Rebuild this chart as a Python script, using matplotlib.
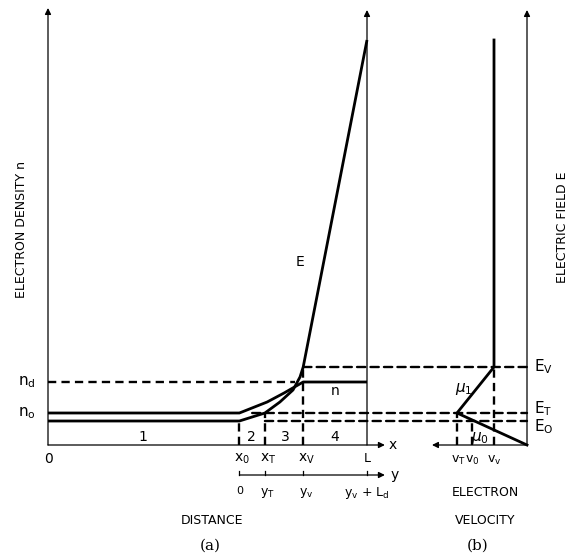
import matplotlib
matplotlib.use("Agg")
import matplotlib.pyplot as plt
from matplotlib.patches import ConnectionPatch

# ---- data (schematic) ----
# panel (a): distance marks
x_0, x_T, x_v, L = 6.0, 6.8, 8.0, 10.0
# field levels
E_0, E_T, E_v, E_L = 2.4, 3.2, 7.8, 40.5
# density levels
n_0, n_d = 3.2, 6.3

# electric field along the sample
E_dist = [0.0, 6.0, 6.8, 7.27, 7.68, 7.9, 8.0, 10.0]
E_vals = [2.4, 2.4, 3.2, 4.3, 5.5, 6.8, 7.8, 40.5]

# electron density along the sample
n_dist = [0.0, 6.0, 6.87, 7.4, 8.0, 10.0]
n_vals = [3.2, 3.2, 4.3, 5.2, 6.3, 6.3]

# panel (b): velocity-field characteristic
v_T, v_0, v_v = 7.0, 5.5, 3.3
vel = [0.0, 7.0, 3.3, 3.3]
field = [0.0, 3.2, 7.8, 40.5]

W, H = 575, 559
fig = plt.figure(figsize=(W / 100, H / 100), dpi=100)
fig.patch.set_facecolor("white")

ylim = (-11.4, 44.5)
ax_a = fig.add_axes([0, 0, 1, 1])
ax_a.set_xlim(-48 / 31.9, 527 / 31.9)
ax_a.set_ylim(*ylim)
ax_a.axis("off")

ax_b = fig.add_axes([0, 0, 1, 1])
ax_b.set_xlim(52.7, -4.8)
ax_b.set_ylim(*ylim)
ax_b.axis("off")
ax_b.patch.set_alpha(0)

thin = 0.9
thick = 2.0
dash = (0, (3.5, 2.2))
dlw = 1.7
arr = dict(arrowstyle="-|>", lw=thin, color="k", mutation_scale=9,
           shrinkA=0, shrinkB=0)


def arrow(ax, start, end):
    ax.annotate("", xy=end, xytext=start, arrowprops=arr)


# ---- panel (a) axes ----
arrow(ax_a, (0, 0), (0, 43.7))
arrow(ax_a, (0, 0), (10.56, 0))
arrow(ax_a, (L, 0), (L, 43.5))
arrow(ax_a, (x_0, -3.0), (10.56, -3.0))
for xm in [x_0, x_T, x_v, L]:
    ax_a.plot([xm, xm], [-3.0, -2.6], color="k", lw=thin)

# curves
ax_a.plot(E_dist, E_vals, color="k", lw=thick, solid_capstyle="butt")
ax_a.plot(n_dist, n_vals, color="k", lw=thick, solid_capstyle="butt")

# dashed guides in (a)
ax_a.plot([0, 7.75], [n_d, n_d], color="k", lw=dlw, linestyle=dash)
ax_a.plot([x_0, x_0], [0, E_0], color="k", lw=dlw, linestyle=dash)
ax_a.plot([x_T, x_T], [0, E_T], color="k", lw=dlw, linestyle=dash)
ax_a.plot([x_v, x_v], [0, E_v], color="k", lw=dlw, linestyle=dash)

# ---- panel (b) ----
arrow(ax_b, (0, 0), (0, 43.5))
arrow(ax_b, (0, 0), (9.5, 0))
ax_b.plot(vel, field, color="k", lw=thick)
ax_b.plot([v_T, v_T], [0, E_T], color="k", lw=dlw, linestyle=dash)
ax_b.plot([v_0, v_0], [0, E_0], color="k", lw=dlw, linestyle=dash)
ax_b.plot([v_v, v_v], [0, E_v], color="k", lw=dlw, linestyle=dash)

# field levels running across both panels
for xa, lev in [(x_v, E_v), (6.4, E_T), (x_T, E_0)]:
    con = ConnectionPatch(xyA=(xa, lev), xyB=(0, lev),
                          coordsA=ax_a.transData, coordsB=ax_b.transData,
                          lw=dlw, linestyle=dash, color="k")
    fig.add_artist(con)

# ---- text ----
sans = "DejaVu Sans"


def txt(px, py, s, size=9, **kw):
    fig.text(px / W, 1 - py / H, s, fontsize=size, family=sans,
             ha="center", va="center", **kw)


txt(22, 229, "ELECTRON DENSITY n", rotation=90)
txt(563, 227, "ELECTRIC FIELD E", rotation=90)
txt(27, 382, r"n$_\mathregular{d}$", size=11)
txt(27, 413, r"n$_\mathregular{o}$", size=11)
txt(48, 459, "0", size=10)
txt(143, 437, "1", size=10)
txt(251, 437, "2", size=10)
txt(285, 437, "3", size=10)
txt(335, 437, "4", size=10)
txt(335, 391, "n", size=10)
txt(300, 262, "E", size=10)
txt(393, 445, "x", size=10)
txt(242, 459, r"x$_\mathregular{0}$", size=10)
txt(268, 459, r"x$_\mathregular{T}$", size=10)
txt(306, 459, r"x$_\mathregular{V}$", size=10)
txt(367, 459, "L", size=9)
txt(395, 475, "y", size=10)
txt(240, 491, "0", size=8)
txt(267, 493, r"y$_\mathregular{T}$", size=9)
txt(306, 493, r"y$_\mathregular{v}$", size=9)
txt(367, 493, r"y$_\mathregular{v}$ + L$_\mathregular{d}$", size=9)
txt(212, 521, "DISTANCE")
txt(485, 493, "ELECTRON")
txt(485, 520, "VELOCITY")
fig.text(210 / W, 1 - 546 / H, "(a)", fontsize=11, family="DejaVu Serif",
         ha="center", va="center")
fig.text(478 / W, 1 - 546 / H, "(b)", fontsize=11, family="DejaVu Serif",
         ha="center", va="center")

# panel (b) labels
fig.text(534 / W, 1 - 367 / H, r"E$_\mathregular{V}$", fontsize=11,
         family=sans, ha="left", va="center")
fig.text(534 / W, 1 - 409 / H, r"E$_\mathregular{T}$", fontsize=11,
         family=sans, ha="left", va="center")
fig.text(534 / W, 1 - 427 / H, r"E$_\mathregular{O}$", fontsize=11,
         family=sans, ha="left", va="center")
txt(464, 389, r"$\mu_\mathregular{1}$", size=11)
txt(480, 438, r"$\mu_\mathregular{0}$", size=11)
txt(458, 460, r"v$_\mathregular{T}$", size=9)
txt(472, 460, r"v$_\mathregular{0}$", size=9)
txt(494, 460, r"v$_\mathregular{v}$", size=9)

fig.savefig("out.png", dpi=100, facecolor="white")
